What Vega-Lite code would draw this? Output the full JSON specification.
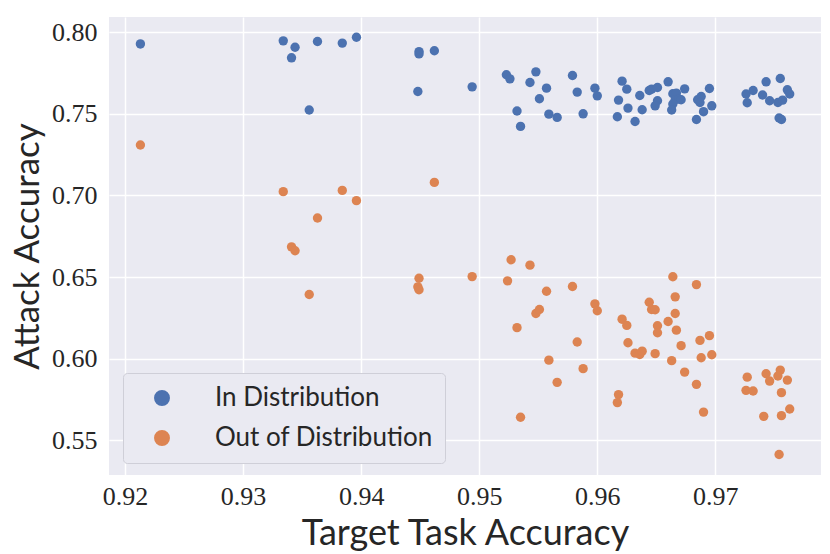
{
  "$schema": "https://vega.github.io/schema/vega-lite/v6.json",
  "width": 712,
  "height": 458,
  "autosize": "none",
  "padding": {"left": 109, "top": 17, "right": 9, "bottom": 79},
  "background": "white",
  "data": {"values": [
    {"x":0.9213,"y":0.7928,"s":"In Distribution"},
    {"x":0.9334,"y":0.7947,"s":"In Distribution"},
    {"x":0.9344,"y":0.7908,"s":"In Distribution"},
    {"x":0.9341,"y":0.7843,"s":"In Distribution"},
    {"x":0.9363,"y":0.7943,"s":"In Distribution"},
    {"x":0.9384,"y":0.7933,"s":"In Distribution"},
    {"x":0.9396,"y":0.7969,"s":"In Distribution"},
    {"x":0.9449,"y":0.7881,"s":"In Distribution"},
    {"x":0.9449,"y":0.7867,"s":"In Distribution"},
    {"x":0.9462,"y":0.7886,"s":"In Distribution"},
    {"x":0.9448,"y":0.7637,"s":"In Distribution"},
    {"x":0.9356,"y":0.7523,"s":"In Distribution"},
    {"x":0.9494,"y":0.7665,"s":"In Distribution"},
    {"x":0.9523,"y":0.7739,"s":"In Distribution"},
    {"x":0.9526,"y":0.7714,"s":"In Distribution"},
    {"x":0.9548,"y":0.7757,"s":"In Distribution"},
    {"x":0.9543,"y":0.7692,"s":"In Distribution"},
    {"x":0.9557,"y":0.7657,"s":"In Distribution"},
    {"x":0.9551,"y":0.7592,"s":"In Distribution"},
    {"x":0.9532,"y":0.7517,"s":"In Distribution"},
    {"x":0.9535,"y":0.7423,"s":"In Distribution"},
    {"x":0.9559,"y":0.7498,"s":"In Distribution"},
    {"x":0.9566,"y":0.7478,"s":"In Distribution"},
    {"x":0.9579,"y":0.7735,"s":"In Distribution"},
    {"x":0.9583,"y":0.7633,"s":"In Distribution"},
    {"x":0.9588,"y":0.7500,"s":"In Distribution"},
    {"x":0.9598,"y":0.7657,"s":"In Distribution"},
    {"x":0.9600,"y":0.7610,"s":"In Distribution"},
    {"x":0.9621,"y":0.7700,"s":"In Distribution"},
    {"x":0.9625,"y":0.7651,"s":"In Distribution"},
    {"x":0.9618,"y":0.7584,"s":"In Distribution"},
    {"x":0.9617,"y":0.7482,"s":"In Distribution"},
    {"x":0.9626,"y":0.7535,"s":"In Distribution"},
    {"x":0.9632,"y":0.7453,"s":"In Distribution"},
    {"x":0.9636,"y":0.7612,"s":"In Distribution"},
    {"x":0.9638,"y":0.7525,"s":"In Distribution"},
    {"x":0.9644,"y":0.7643,"s":"In Distribution"},
    {"x":0.9646,"y":0.7651,"s":"In Distribution"},
    {"x":0.9651,"y":0.7661,"s":"In Distribution"},
    {"x":0.9651,"y":0.7580,"s":"In Distribution"},
    {"x":0.9649,"y":0.7549,"s":"In Distribution"},
    {"x":0.9660,"y":0.7696,"s":"In Distribution"},
    {"x":0.9664,"y":0.7623,"s":"In Distribution"},
    {"x":0.9667,"y":0.7627,"s":"In Distribution"},
    {"x":0.9666,"y":0.7586,"s":"In Distribution"},
    {"x":0.9669,"y":0.7590,"s":"In Distribution"},
    {"x":0.9671,"y":0.7586,"s":"In Distribution"},
    {"x":0.9664,"y":0.7560,"s":"In Distribution"},
    {"x":0.9663,"y":0.7523,"s":"In Distribution"},
    {"x":0.9674,"y":0.7653,"s":"In Distribution"},
    {"x":0.9685,"y":0.7586,"s":"In Distribution"},
    {"x":0.9688,"y":0.7606,"s":"In Distribution"},
    {"x":0.9687,"y":0.7569,"s":"In Distribution"},
    {"x":0.9690,"y":0.7513,"s":"In Distribution"},
    {"x":0.9684,"y":0.7465,"s":"In Distribution"},
    {"x":0.9695,"y":0.7655,"s":"In Distribution"},
    {"x":0.9697,"y":0.7549,"s":"In Distribution"},
    {"x":0.9726,"y":0.7621,"s":"In Distribution"},
    {"x":0.9727,"y":0.7568,"s":"In Distribution"},
    {"x":0.9732,"y":0.7643,"s":"In Distribution"},
    {"x":0.9743,"y":0.7696,"s":"In Distribution"},
    {"x":0.9740,"y":0.7615,"s":"In Distribution"},
    {"x":0.9746,"y":0.7580,"s":"In Distribution"},
    {"x":0.9755,"y":0.7716,"s":"In Distribution"},
    {"x":0.9753,"y":0.7569,"s":"In Distribution"},
    {"x":0.9757,"y":0.7584,"s":"In Distribution"},
    {"x":0.9761,"y":0.7647,"s":"In Distribution"},
    {"x":0.9763,"y":0.7621,"s":"In Distribution"},
    {"x":0.9754,"y":0.7474,"s":"In Distribution"},
    {"x":0.9756,"y":0.7465,"s":"In Distribution"},
    {"x":0.9213,"y":0.7309,"s":"Out of Distribution"},
    {"x":0.9334,"y":0.7023,"s":"Out of Distribution"},
    {"x":0.9384,"y":0.7031,"s":"Out of Distribution"},
    {"x":0.9396,"y":0.6968,"s":"Out of Distribution"},
    {"x":0.9462,"y":0.7080,"s":"Out of Distribution"},
    {"x":0.9363,"y":0.6862,"s":"Out of Distribution"},
    {"x":0.9341,"y":0.6685,"s":"Out of Distribution"},
    {"x":0.9344,"y":0.6661,"s":"Out of Distribution"},
    {"x":0.9449,"y":0.6493,"s":"Out of Distribution"},
    {"x":0.9448,"y":0.6440,"s":"Out of Distribution"},
    {"x":0.9449,"y":0.6422,"s":"Out of Distribution"},
    {"x":0.9494,"y":0.6503,"s":"Out of Distribution"},
    {"x":0.9356,"y":0.6393,"s":"Out of Distribution"},
    {"x":0.9527,"y":0.6606,"s":"Out of Distribution"},
    {"x":0.9543,"y":0.6573,"s":"Out of Distribution"},
    {"x":0.9524,"y":0.6477,"s":"Out of Distribution"},
    {"x":0.9557,"y":0.6413,"s":"Out of Distribution"},
    {"x":0.9579,"y":0.6442,"s":"Out of Distribution"},
    {"x":0.9548,"y":0.6277,"s":"Out of Distribution"},
    {"x":0.9551,"y":0.6301,"s":"Out of Distribution"},
    {"x":0.9532,"y":0.6190,"s":"Out of Distribution"},
    {"x":0.9583,"y":0.6102,"s":"Out of Distribution"},
    {"x":0.9559,"y":0.5991,"s":"Out of Distribution"},
    {"x":0.9588,"y":0.5939,"s":"Out of Distribution"},
    {"x":0.9598,"y":0.6336,"s":"Out of Distribution"},
    {"x":0.9600,"y":0.6294,"s":"Out of Distribution"},
    {"x":0.9621,"y":0.6242,"s":"Out of Distribution"},
    {"x":0.9625,"y":0.6204,"s":"Out of Distribution"},
    {"x":0.9626,"y":0.6098,"s":"Out of Distribution"},
    {"x":0.9632,"y":0.6034,"s":"Out of Distribution"},
    {"x":0.9636,"y":0.6026,"s":"Out of Distribution"},
    {"x":0.9638,"y":0.6046,"s":"Out of Distribution"},
    {"x":0.9649,"y":0.6031,"s":"Out of Distribution"},
    {"x":0.9644,"y":0.6346,"s":"Out of Distribution"},
    {"x":0.9646,"y":0.6301,"s":"Out of Distribution"},
    {"x":0.9649,"y":0.6300,"s":"Out of Distribution"},
    {"x":0.9651,"y":0.6202,"s":"Out of Distribution"},
    {"x":0.9651,"y":0.6159,"s":"Out of Distribution"},
    {"x":0.9660,"y":0.6228,"s":"Out of Distribution"},
    {"x":0.9664,"y":0.6502,"s":"Out of Distribution"},
    {"x":0.9666,"y":0.6379,"s":"Out of Distribution"},
    {"x":0.9666,"y":0.6277,"s":"Out of Distribution"},
    {"x":0.9667,"y":0.6175,"s":"Out of Distribution"},
    {"x":0.9663,"y":0.5988,"s":"Out of Distribution"},
    {"x":0.9671,"y":0.6080,"s":"Out of Distribution"},
    {"x":0.9674,"y":0.5918,"s":"Out of Distribution"},
    {"x":0.9684,"y":0.6454,"s":"Out of Distribution"},
    {"x":0.9687,"y":0.6112,"s":"Out of Distribution"},
    {"x":0.9695,"y":0.6141,"s":"Out of Distribution"},
    {"x":0.9688,"y":0.6006,"s":"Out of Distribution"},
    {"x":0.9697,"y":0.6024,"s":"Out of Distribution"},
    {"x":0.9566,"y":0.5855,"s":"Out of Distribution"},
    {"x":0.9535,"y":0.5641,"s":"Out of Distribution"},
    {"x":0.9618,"y":0.5780,"s":"Out of Distribution"},
    {"x":0.9617,"y":0.5731,"s":"Out of Distribution"},
    {"x":0.9684,"y":0.5843,"s":"Out of Distribution"},
    {"x":0.9690,"y":0.5673,"s":"Out of Distribution"},
    {"x":0.9727,"y":0.5887,"s":"Out of Distribution"},
    {"x":0.9726,"y":0.5806,"s":"Out of Distribution"},
    {"x":0.9732,"y":0.5802,"s":"Out of Distribution"},
    {"x":0.9743,"y":0.5908,"s":"Out of Distribution"},
    {"x":0.9746,"y":0.5863,"s":"Out of Distribution"},
    {"x":0.9755,"y":0.5930,"s":"Out of Distribution"},
    {"x":0.9753,"y":0.5894,"s":"Out of Distribution"},
    {"x":0.9761,"y":0.5869,"s":"Out of Distribution"},
    {"x":0.9756,"y":0.5792,"s":"Out of Distribution"},
    {"x":0.9763,"y":0.5692,"s":"Out of Distribution"},
    {"x":0.9741,"y":0.5647,"s":"Out of Distribution"},
    {"x":0.9756,"y":0.5651,"s":"Out of Distribution"},
    {"x":0.9754,"y":0.5413,"s":"Out of Distribution"}
  ]},
  "mark": {"type": "circle", "size": 88, "opacity": 1, "strokeWidth": 0},
  "encoding": {
    "x": {
      "field": "x", "type": "quantitative",
      "scale": {"domain": [0.91864, 0.97895], "nice": false, "zero": false},
      "axis": {"values": [0.92, 0.93, 0.94, 0.95, 0.96, 0.97], "format": ".2f", "title": "Target Task Accuracy", "labelPadding": 8, "titlePadding": 7, "titleFontSize": 36}
    },
    "y": {
      "field": "y", "type": "quantitative",
      "scale": {"domain": [0.52876, 0.8093], "nice": false, "zero": false},
      "axis": {"values": [0.55, 0.6, 0.65, 0.7, 0.75, 0.8], "format": ".2f", "title": "Attack Accuracy", "labelPadding": 12, "titlePadding": 6, "titleFontSize": 35}
    },
    "color": {
      "field": "s", "type": "nominal",
      "scale": {"domain": ["In Distribution", "Out of Distribution"], "range": ["#4c72b0", "#dd8452"]},
      "legend": {
        "title": null, "orient": "none", "legendX": 14, "legendY": 356,
        "padding": 12, "symbolType": "circle", "symbolSize": 254,
        "symbolOffset": 14, "labelOffset": 40, "rowPadding": 14, "labelLimit": 500,
        "labelFont": "Lato", "labelFontSize": 26, "labelColor": "#262626",
        "fillColor": "#eaeaf2", "strokeColor": "#cfcfd8", "cornerRadius": 4
      }
    }
  },
  "config": {
    "view": {"fill": "#eaeaf2", "stroke": null},
    "axis": {
      "grid": true, "gridColor": "#ffffff", "gridWidth": 1.5,
      "domain": false, "ticks": false, "tickSize": 0,
      "labelFont": "Liberation Serif", "labelFontSize": 26, "labelColor": "#262626",
      "titleFont": "Lato", "titleFontSize": 34, "titleFontWeight": "normal", "titleColor": "#262626"
    }
  }
}
